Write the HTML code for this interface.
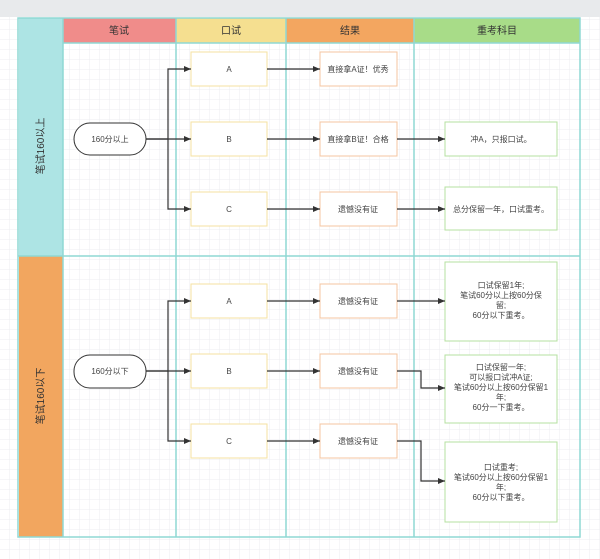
<!DOCTYPE html>
<html><head><meta charset="utf-8"><style>
body{margin:0;width:600px;height:559px;overflow:hidden;background:#fff;}
svg{display:block;font-family:"Liberation Sans","Noto Sans CJK SC",sans-serif;}
</style></head><body>
<svg width="600" height="559" viewBox="0 0 600 559" xmlns="http://www.w3.org/2000/svg">
<defs>
<pattern id="g" width="10" height="10" patternUnits="userSpaceOnUse">
<path d="M10 0V10H0" fill="none" stroke="#eceef0" stroke-width="1"/>
</pattern>
<marker id="a" markerWidth="8" markerHeight="8" refX="7" refY="4" orient="auto" markerUnits="userSpaceOnUse">
<path d="M0 1L7 4L0 7Z" fill="#333"/>
</marker>
</defs>
<rect width="600" height="559" fill="url(#g)"/>
<rect width="600" height="17" fill="#e8eaec"/>
<!-- headers -->
<rect x="63" y="18" width="113" height="25" fill="#f08c8a"/>
<rect x="176" y="18" width="110" height="25" fill="#f5df90"/>
<rect x="286" y="18" width="128" height="25" fill="#f3a660"/>
<rect x="414" y="18" width="166" height="25" fill="#a8dc88"/>
<rect x="19" y="18" width="44" height="238" fill="#ade4e4"/>
<rect x="19" y="256" width="44" height="281" fill="#f2a65f"/>
<g font-size="10" fill="#333" text-anchor="middle">
<text x="119" y="34">笔试</text><text x="231" y="34">口试</text><text x="350" y="34">结果</text><text x="497" y="34">重考科目</text>
<text transform="translate(44,146) rotate(-90)">笔试160以上</text>
<text transform="translate(44,396) rotate(-90)">笔试160以下</text>
</g>
<!-- grid borders -->
<g stroke="#8fd8d4" stroke-width="1.5" fill="none">
<rect x="18" y="18" width="562" height="519"/>
<line x1="63" y1="18" x2="63" y2="537"/>
<line x1="176" y1="18" x2="176" y2="537"/>
<line x1="286" y1="18" x2="286" y2="537"/>
<line x1="414" y1="18" x2="414" y2="537"/>
<line x1="63" y1="43" x2="580" y2="43"/>
<line x1="18" y1="256" x2="580" y2="256"/>
</g>
<!-- nodes -->
<g fill="#fff" stroke-width="1">
<rect x="74" y="123" width="72" height="32" rx="16" stroke="#333"/>
<rect x="74" y="355" width="72" height="33" rx="16" stroke="#333"/>
<g stroke="#f5e2a0">
<rect x="191" y="52" width="76" height="34"/><rect x="191" y="122" width="76" height="34"/><rect x="191" y="192" width="76" height="34"/>
<rect x="191" y="284" width="76" height="34"/><rect x="191" y="354" width="76" height="34"/><rect x="191" y="424" width="76" height="34"/>
</g>
<g stroke="#f4c6a0">
<rect x="320" y="52" width="77" height="34"/><rect x="320" y="122" width="77" height="34"/><rect x="320" y="192" width="77" height="34"/>
<rect x="320" y="284" width="77" height="34"/><rect x="320" y="354" width="77" height="34"/><rect x="320" y="424" width="77" height="34"/>
</g>
<g stroke="#b6e0a0">
<rect x="445" y="122" width="112" height="34"/><rect x="445" y="187" width="112" height="43"/>
<rect x="445" y="262" width="112" height="79"/><rect x="445" y="355" width="112" height="68"/><rect x="445" y="442" width="112" height="80"/>
</g>
</g>
<!-- connectors -->
<g stroke="#333" stroke-width="1.2" fill="none" marker-end="url(#a)">
<path d="M146 139H168V69H191"/><path d="M146 139H191"/><path d="M168 139V209H191"/>
<path d="M146 371H168V301H191"/><path d="M146 371H191"/><path d="M168 371V441H191"/>
<path d="M267 69H320"/><path d="M267 139H320"/><path d="M267 209H320"/>
<path d="M267 301H320"/><path d="M267 371H320"/><path d="M267 441H320"/>
<path d="M397 139H445"/><path d="M397 209H445"/>
<path d="M397 301H445"/><path d="M397 371H421V388H445"/><path d="M397 441H421V481H445"/>
</g>
<g font-size="8" fill="#444" text-anchor="middle">
<text x="110" y="142">160分以上</text><text x="110" y="374">160分以下</text>
<text x="229" y="72">A</text><text x="229" y="142">B</text><text x="229" y="212">C</text>
<text x="229" y="304">A</text><text x="229" y="374">B</text><text x="229" y="444">C</text>
<text x="358" y="72">直接拿A证！优秀</text><text x="358" y="142">直接拿B证！合格</text><text x="358" y="212">遗憾没有证</text>
<text x="358" y="304">遗憾没有证</text><text x="358" y="374">遗憾没有证</text><text x="358" y="444">遗憾没有证</text>
<text x="501" y="142">冲A，只报口试。</text><text x="501" y="212">总分保留一年，口试重考。</text>
<text x="501" y="288">口试保留1年;</text><text x="501" y="298">笔试60分以上按60分保</text><text x="501" y="308">留;</text><text x="501" y="318">60分以下重考。</text>
<text x="501" y="370">口试保留一年;</text><text x="501" y="380">可以报口试冲A证;</text><text x="501" y="390">笔试60分以上按60分保留1</text><text x="501" y="400">年;</text><text x="501" y="410">60分一下重考。</text>
<text x="501" y="470">口试重考;</text><text x="501" y="480">笔试60分以上按60分保留1</text><text x="501" y="490">年;</text><text x="501" y="500">60分以下重考。</text>
</g>
</svg>
</body></html>
